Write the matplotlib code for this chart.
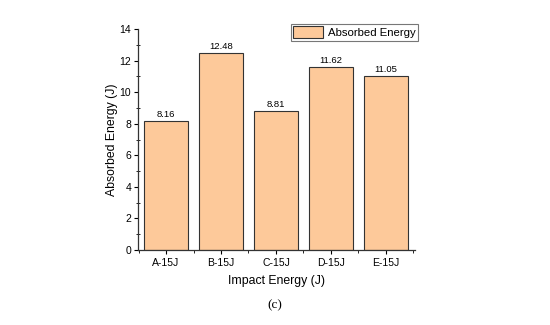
import matplotlib
matplotlib.use("Agg")
import matplotlib.pyplot as plt
from matplotlib.ticker import MultipleLocator, FixedLocator

categories = ["A-15J", "B-15J", "C-15J", "D-15J", "E-15J"]
absorbed = [8.16, 12.48, 8.81, 11.62, 11.05]
series_name = "Absorbed Energy"

plt.rcParams['font.family'] = ['Liberation Sans', 'DejaVu Sans']

fig = plt.figure(figsize=(5.5, 3.25), dpi=100)
ax = fig.add_axes([138/550, 1-250/325, (415-138)/550, (250-29)/325])

x = list(range(len(categories)))
bars = ax.bar(x, absorbed, width=0.8, color="#FDC99A", edgecolor="#333333",
              linewidth=0.8, label=series_name)
for xi, v in zip(x, absorbed):
    ax.text(xi, v + 0.12, f"{v:.2f}", ha="center", va="bottom", fontsize=6.8)

ax.set_xlim(-0.51, 4.53)
ax.set_ylim(0, 14)
ax.set_xticks(x)
ax.set_xticklabels(categories, fontsize=7.5)
ax.yaxis.set_major_locator(MultipleLocator(2))
ax.yaxis.set_minor_locator(MultipleLocator(1))
ax.xaxis.set_minor_locator(FixedLocator([i + 0.5 for i in range(-1, 5)]))
ax.tick_params(axis="y", labelsize=7.5, direction="out", length=3, width=0.8, pad=2)
ax.tick_params(axis="y", which="minor", direction="inout", length=3, width=0.6)
ax.tick_params(axis="x", direction="out", length=3, width=0.8, pad=3)
ax.tick_params(axis="x", which="minor", direction="out", length=2, width=0.6)
for s in ["top", "right"]:
    ax.spines[s].set_visible(False)
for s in ["left", "bottom"]:
    ax.spines[s].set_linewidth(0.9)
    ax.spines[s].set_color("#333333")

ax.set_ylabel("Absorbed Energy (J)", fontsize=8.8, labelpad=1)
ax.set_xlabel("Impact Energy (J)", fontsize=8.8, labelpad=5)

leg = ax.legend(loc="upper right", bbox_to_anchor=(1.02, 1.035), fontsize=8.2,
                frameon=True, fancybox=False, edgecolor="#555555",
                handlelength=2.6, handleheight=1.2, borderpad=0.25,
                handletextpad=0.4, borderaxespad=0.2)
leg.get_frame().set_linewidth(0.8)

fig.text(275/550, 1-305/325, "(c)", ha="center", va="center", fontsize=9.5,
         family=["Liberation Serif", "DejaVu Serif"])

fig.savefig("out.png", dpi=100)
